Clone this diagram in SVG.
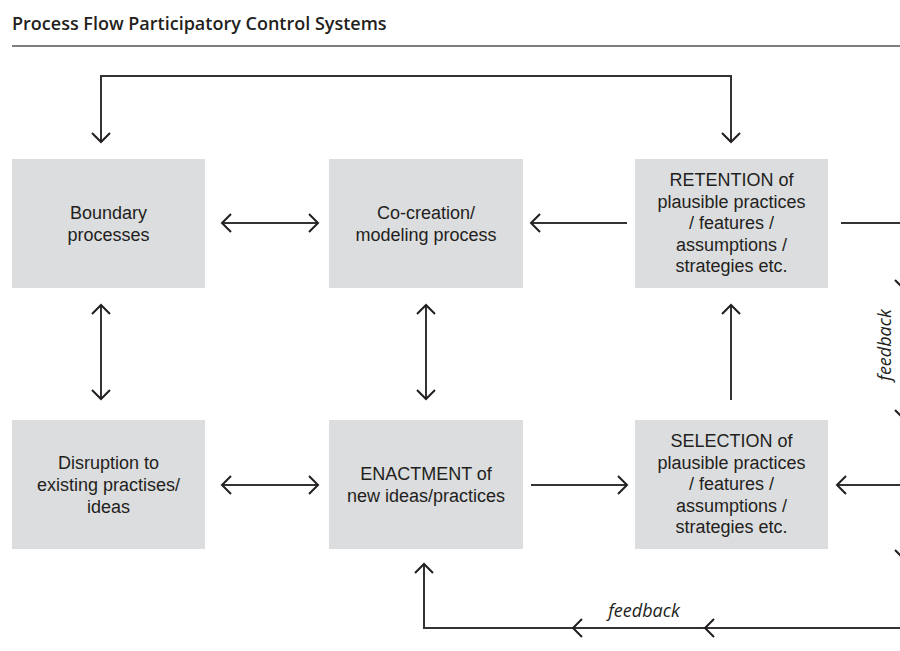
<svg xmlns="http://www.w3.org/2000/svg" width="900" height="651" viewBox="0 0 900 651">
<style>
.box{fill:#dcdddf}
.t{font-family:"Liberation Sans",Arial,sans-serif;font-size:18px;fill:#231f20;text-anchor:middle}
.title{font-family:"Open Sans","Liberation Sans",sans-serif;font-size:18px;font-weight:600;fill:#231f20}
.fb{font-family:"Open Sans","Liberation Sans",sans-serif;font-size:18px;font-style:italic;fill:#231f20;text-anchor:middle}
.ln{fill:none;stroke:#333;stroke-width:2}
.chev{fill:none;stroke:#231f20;stroke-width:2}
</style>
<defs>
<marker id="ah" markerUnits="userSpaceOnUse" markerWidth="24" markerHeight="24" viewBox="-12 -12 24 24" refX="0" refY="0" orient="auto-start-reverse">
<path d="M-9,-9 L0,0 L-9,9" fill="none" stroke="#231f20" stroke-width="2"/>
</marker>
</defs>
<text class="title" x="12" y="30">Process Flow Participatory Control Systems</text>
<line x1="12" y1="46" x2="900" y2="46" stroke="#555" stroke-width="1.6"/>

<g id="boundary"><rect class="box" x="12" y="159" width="193" height="129"/>
<text class="t" x="108.5" y="219">Boundary</text><text class="t" x="108.5" y="241">processes</text></g>
<g id="cocreation"><rect class="box" x="329" y="159" width="194" height="129"/>
<text class="t" x="426" y="219">Co-creation/</text><text class="t" x="426" y="241">modeling process</text></g>
<g id="retention"><rect class="box" x="635" y="159" width="193" height="129"/>
<text class="t" x="731.5" y="186">RETENTION of</text><text class="t" x="731.5" y="208">plausible practices</text><text class="t" x="731.5" y="229">/ features /</text><text class="t" x="731.5" y="251">assumptions /</text><text class="t" x="731.5" y="272">strategies etc.</text></g>
<g id="disruption"><rect class="box" x="12" y="420" width="193" height="129"/>
<text class="t" x="108.5" y="469">Disruption to</text><text class="t" x="108.5" y="491">existing practises/</text><text class="t" x="108.5" y="513">ideas</text></g>
<g id="enactment"><rect class="box" x="329" y="420" width="194" height="129"/>
<text class="t" x="426" y="480">ENACTMENT of</text><text class="t" x="426" y="502">new ideas/practices</text></g>
<g id="selection"><rect class="box" x="635" y="420" width="193" height="129"/>
<text class="t" x="731.5" y="447">SELECTION of</text><text class="t" x="731.5" y="469">plausible practices</text><text class="t" x="731.5" y="490">/ features /</text><text class="t" x="731.5" y="512">assumptions /</text><text class="t" x="731.5" y="533">strategies etc.</text></g>

<g id="connectors">
<path class="ln" d="M101,142 V76 H731 V142" marker-start="url(#ah)" marker-end="url(#ah)"/>
<line class="ln" x1="222" y1="223" x2="318" y2="223" marker-start="url(#ah)" marker-end="url(#ah)"/>
<line class="ln" x1="627" y1="223" x2="531" y2="223" marker-end="url(#ah)"/>
<line class="ln" x1="841" y1="223" x2="900" y2="223"/>
<line class="ln" x1="101" y1="305" x2="101" y2="399" marker-start="url(#ah)" marker-end="url(#ah)"/>
<line class="ln" x1="426" y1="305" x2="426" y2="399" marker-start="url(#ah)" marker-end="url(#ah)"/>
<line class="ln" x1="731" y1="400" x2="731" y2="305" marker-end="url(#ah)"/>
<line class="ln" x1="222" y1="485" x2="318" y2="485" marker-start="url(#ah)" marker-end="url(#ah)"/>
<line class="ln" x1="531" y1="485" x2="627" y2="485" marker-end="url(#ah)"/>
<line class="ln" x1="900" y1="485" x2="837" y2="485" marker-end="url(#ah)"/>
<path class="ln" d="M900,628 H424 V564" marker-end="url(#ah)"/>
<path class="chev" d="M582,619 L573,628 L582,637"/>
<path class="chev" d="M714,619 L705,628 L714,637"/>
<path class="chev" d="M895,280 L904,289 L913,280"/>
<path class="chev" d="M895,410 L904,419 L913,410"/>
<path class="chev" d="M895,550 L904,559 L913,550"/>
<text class="fb" x="644" y="617">feedback</text>
<text class="fb" transform="translate(891,345) rotate(-90)" x="0" y="0">feedback</text>
</g>
</svg>
